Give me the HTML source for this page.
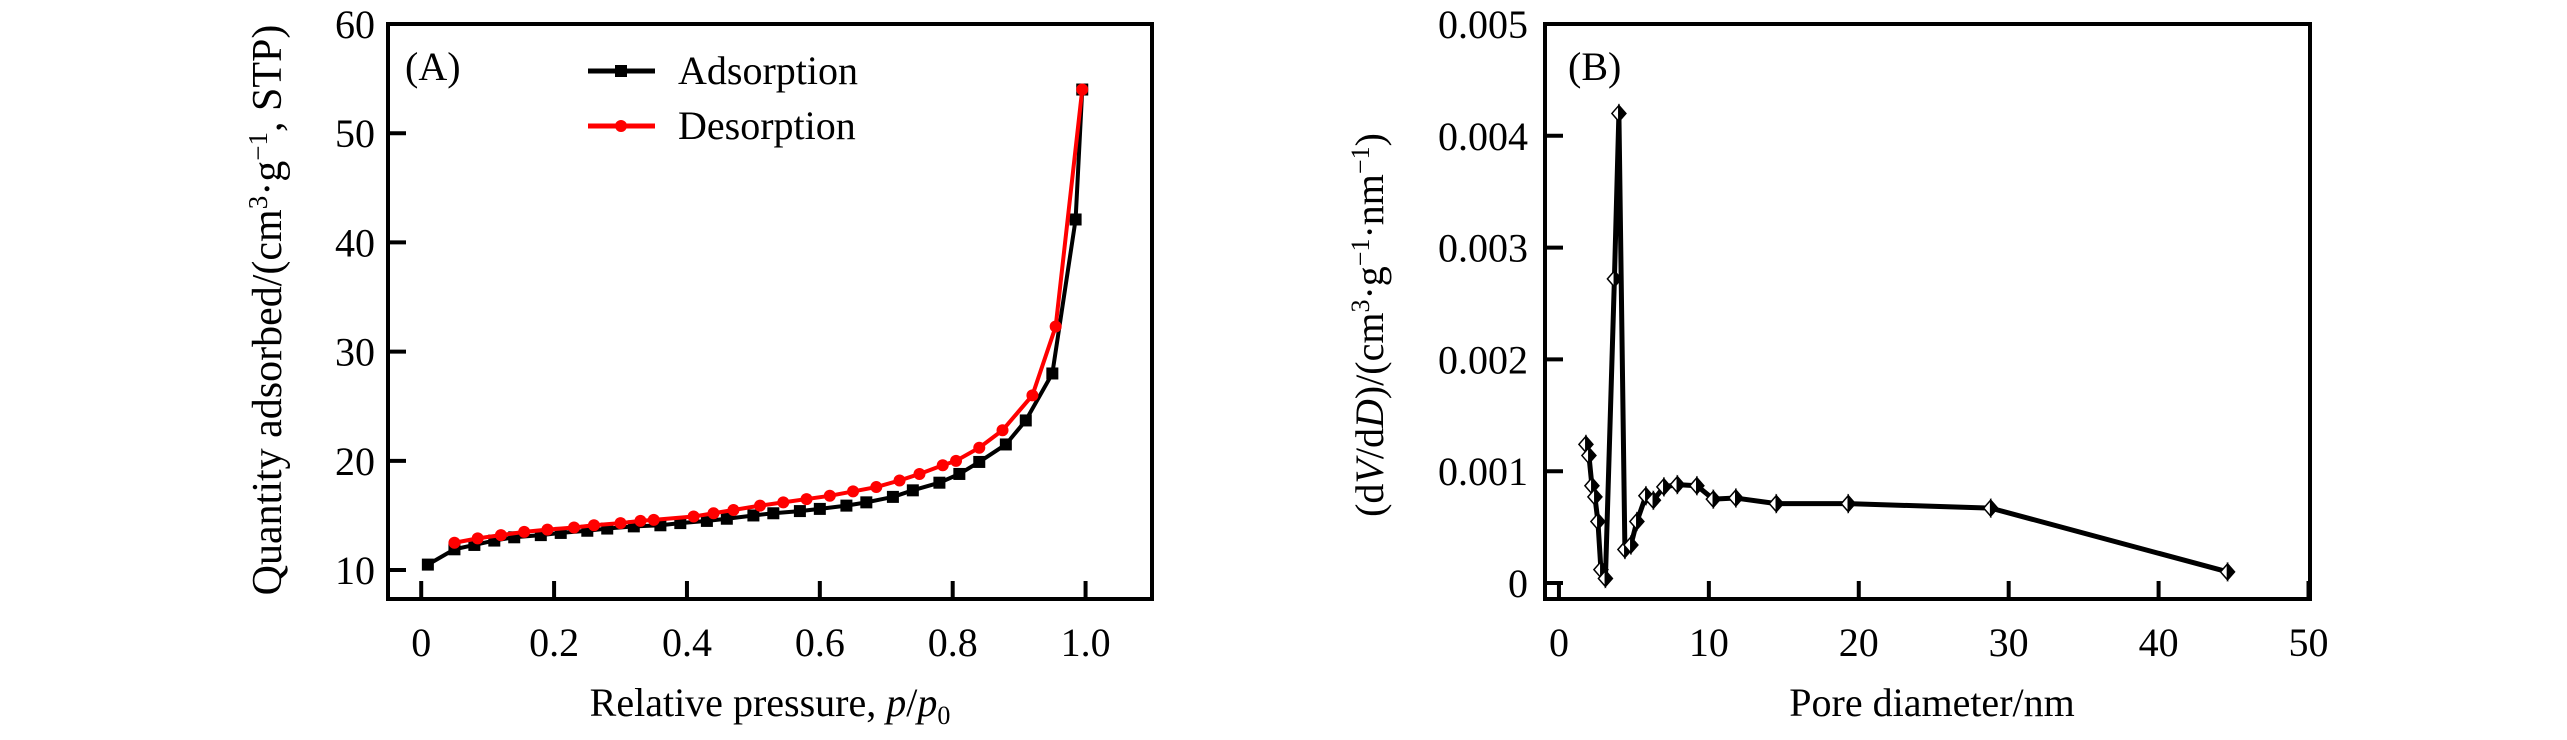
<!DOCTYPE html>
<html><head><meta charset="utf-8"><style>
html,body{margin:0;padding:0;background:#fff;}
svg{display:block;font-family:"Liberation Serif",serif;}
</style></head><body>
<svg id="fig" width="2567" height="740" viewBox="0 0 2567 740" xmlns="http://www.w3.org/2000/svg">
<g id="pa"></g>
<g id="pb"></g>
</svg>
<script>
const adsX=[0.01,0.05,0.08,0.11,0.14,0.18,0.21,0.25,0.28,0.32,0.36,0.39,0.43,0.46,0.50,0.53,0.57,0.60,0.64,0.67,0.71,0.74,0.78,0.81,0.84,0.88,0.91,0.95,0.985,0.995];
const adsY=[10.5,11.9,12.3,12.7,13.0,13.2,13.4,13.6,13.8,14.0,14.1,14.3,14.5,14.7,15.0,15.2,15.4,15.6,15.9,16.2,16.7,17.3,18.0,18.8,19.9,21.5,23.7,28.0,42.1,54.0];
const desX=[0.995,0.955,0.92,0.875,0.84,0.805,0.785,0.75,0.72,0.685,0.65,0.615,0.58,0.545,0.51,0.47,0.44,0.41,0.35,0.33,0.30,0.26,0.23,0.19,0.155,0.12,0.085,0.05];
const desY=[54,32.3,26.0,22.8,21.2,20.0,19.6,18.8,18.2,17.6,17.2,16.8,16.5,16.2,15.9,15.5,15.2,14.9,14.6,14.5,14.3,14.1,13.9,13.7,13.5,13.2,12.9,12.5];
const aXTicks=[0,0.2,0.4,0.6,0.8,1.0];
const aXLabels=["0","0.2","0.4","0.6","0.8","1.0"];
const aYTicks=[10,20,30,40,50,60];
const poreX=[1.8,2.0,2.2,2.4,2.6,2.8,3.1,3.7,4.0,4.4,4.8,5.2,5.8,6.3,7.0,7.9,9.2,10.3,11.8,14.5,19.3,28.8,44.6];
const poreY=[0.00124,0.00114,0.00087,0.00077,0.00055,0.00012,0.00004,0.00272,0.0042,0.0003,0.00034,0.00055,0.00078,0.00074,0.00086,0.00088,0.00087,0.00075,0.00076,0.00071,0.00071,0.00067,0.0001];
const bXTicks=[0,10,20,30,40,50];
const bYTicks=[0,0.001,0.002,0.003,0.004,0.005];
const bYLabels=["0","0.001","0.002","0.003","0.004","0.005"];

const NS="http://www.w3.org/2000/svg";
function mk(parent,tag,attrs,text){const e=document.createElementNS(NS,tag);for(const k in attrs)e.setAttribute(k,attrs[k]);if(text!==undefined)e.textContent=text;parent.appendChild(e);return e;}
const RED='#ff0000';

// Panel A
const pa=document.getElementById('pa');
const A={l:388,r:1152,t:24,b:599,x0:-0.05,x1:1.1,y0:7.35,y1:60};
const ax=v=>A.l+(v-A.x0)/(A.x1-A.x0)*(A.r-A.l);
const ay=v=>A.b-(v-A.y0)/(A.y1-A.y0)*(A.b-A.t);
let f=mk(pa,'rect',{x:A.l,y:A.t,width:A.r-A.l,height:A.b-A.t,fill:'none',stroke:'#000','stroke-width':4});

aXTicks.forEach((v,i)=>{
 let t=mk(pa,'line',{x1:ax(v),x2:ax(v),y1:A.b,y2:A.b-18,stroke:'#000','stroke-width':4});
 
 let l=mk(pa,'text',{x:ax(v),y:656,'font-size':40,'text-anchor':'middle'},aXLabels[i]);
 
});
aYTicks.forEach(v=>{
 let t=mk(pa,'line',{x1:A.l,x2:A.l+18,y1:ay(v),y2:ay(v),stroke:'#000','stroke-width':4});
 
 let l=mk(pa,'text',{x:375,y:ay(v)+14,'font-size':40,'text-anchor':'end'},String(v));
 
});
let xt=mk(pa,'text',{x:770,y:716,'font-size':40,'text-anchor':'middle'});

xt.innerHTML='Relative pressure, <tspan font-style="italic">p</tspan>/<tspan font-style="italic">p</tspan><tspan font-size="26" dy="8">0</tspan>';
let yt=mk(pa,'text',{x:0,y:0,'font-size':42,'text-anchor':'middle',transform:'translate(281,310) rotate(-90)'});

yt.innerHTML='Quantity adsorbed/(cm<tspan font-size="27" dy="-14">3</tspan><tspan dy="14">·g</tspan><tspan font-size="27" dy="-14">−1</tspan><tspan dy="14">, STP)</tspan>';
let la=mk(pa,'text',{x:405,y:80,'font-size':40},'(A)');

let s1=mk(pa,'polyline',{points:adsX.map((x,i)=>ax(x)+','+ay(adsY[i])).join(' '),fill:'none',stroke:'#000','stroke-width':4});

adsX.forEach((x,i)=>{let m=mk(pa,'rect',{x:ax(x)-6,y:ay(adsY[i])-6,width:12,height:12,fill:'#000'});
 });
let s2=mk(pa,'polyline',{points:desX.map((x,i)=>ax(x)+','+ay(desY[i])).join(' '),fill:'none',stroke:RED,'stroke-width':4});

desX.forEach((x,i)=>{let m=mk(pa,'circle',{cx:ax(x),cy:ay(desY[i]),r:6,fill:RED});
 });
let lg=mk(pa,'g',{});
let e1=mk(lg,'g',{});
mk(e1,'line',{x1:588,x2:655,y1:71,y2:71,stroke:'#000','stroke-width':5});
mk(e1,'rect',{x:615,y:65,width:12,height:12,fill:'#000'});
mk(e1,'text',{x:678,y:84,'font-size':40},'Adsorption');
let e2=mk(lg,'g',{});
mk(e2,'line',{x1:588,x2:655,y1:126,y2:126,stroke:RED,'stroke-width':5});
mk(e2,'circle',{cx:621,cy:126,r:6,fill:RED});
mk(e2,'text',{x:678,y:139,'font-size':40},'Desorption');

// Panel B
const pb=document.getElementById('pb');
const B={l:1545,r:2310,t:24,b:599,x0:-0.93,x1:50.1,y0:-0.000143,y1:0.005};
const bx=v=>B.l+(v-B.x0)/(B.x1-B.x0)*(B.r-B.l);
const by=v=>B.b-(v-B.y0)/(B.y1-B.y0)*(B.b-B.t);
f=mk(pb,'rect',{x:B.l,y:B.t,width:B.r-B.l,height:B.b-B.t,fill:'none',stroke:'#000','stroke-width':4});

bXTicks.forEach(v=>{
 let t=mk(pb,'line',{x1:bx(v),x2:bx(v),y1:B.b,y2:B.b-18,stroke:'#000','stroke-width':4});
 
 let l=mk(pb,'text',{x:bx(v),y:656,'font-size':40,'text-anchor':'middle'},String(v));
 
});
bYTicks.forEach((v,i)=>{
 let t=mk(pb,'line',{x1:B.l,x2:B.l+18,y1:by(v),y2:by(v),stroke:'#000','stroke-width':4});
 
 let l=mk(pb,'text',{x:1528,y:by(v)+14,'font-size':40,'text-anchor':'end'},bYLabels[i]);
 
});
xt=mk(pb,'text',{x:1932,y:716,'font-size':40,'text-anchor':'middle'},'Pore diameter/nm');

yt=mk(pb,'text',{x:0,y:0,'font-size':40,'text-anchor':'middle',transform:'translate(1383,325) rotate(-90)'});

yt.innerHTML='(d<tspan font-style="italic">V</tspan>/d<tspan font-style="italic">D</tspan>)/(cm<tspan font-size="26" dy="-14">3</tspan><tspan dy="14">·g</tspan><tspan font-size="26" dy="-14">−1</tspan><tspan dy="14">·nm</tspan><tspan font-size="26" dy="-14">−1</tspan><tspan dy="14">)</tspan>';
la=mk(pb,'text',{x:1568,y:80,'font-size':40},'(B)');

let s3=mk(pb,'polyline',{points:poreX.map((x,i)=>bx(x)+','+by(poreY[i])).join(' '),fill:'none',stroke:'#000','stroke-width':5,'stroke-linejoin':'round'});

poreX.forEach((x,i)=>{const cx=bx(x),cy=by(poreY[i]);
 let g=mk(pb,'g',{});
 mk(g,'polygon',{points:`${cx},${cy-8} ${cx-7},${cy} ${cx},${cy+8}`,fill:'#fff',stroke:'#000','stroke-width':1.5});
 mk(g,'polygon',{points:`${cx},${cy-8} ${cx+7},${cy} ${cx},${cy+8}`,fill:'#000',stroke:'#000','stroke-width':1.5});
});
</script>
</body></html>
